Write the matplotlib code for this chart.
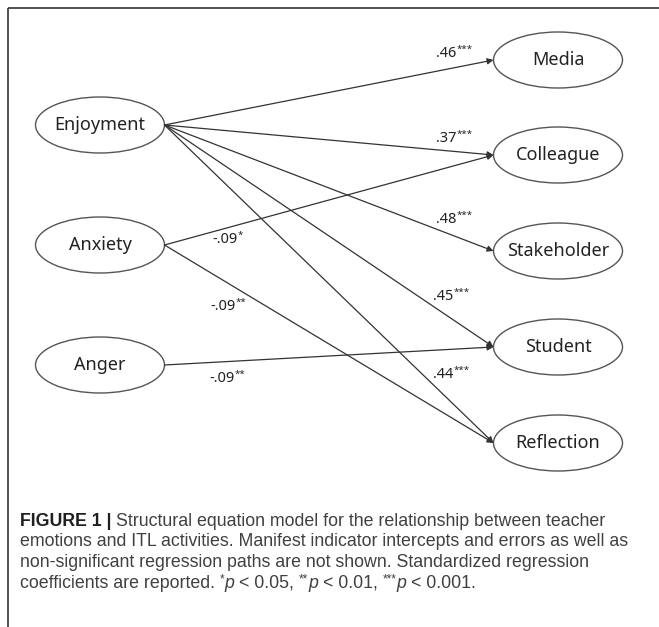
import matplotlib
matplotlib.use("Agg")
import matplotlib.pyplot as plt
from matplotlib.patches import Ellipse

# ---- data ----
predictors = ["Enjoyment", "Anxiety", "Anger"]
outcomes = ["Media", "Colleague", "Stakeholder", "Student", "Reflection"]
path_from = ["Enjoyment", "Enjoyment", "Enjoyment", "Enjoyment", "Enjoyment",
             "Anxiety", "Anxiety", "Anger"]
path_to = ["Media", "Colleague", "Stakeholder", "Student", "Reflection",
           "Colleague", "Reflection", "Student"]
path_coef = [".46", ".37", ".48", ".45", ".44", "-.09", "-.09", "-.09"]
path_stars = ["***", "***", "***", "***", "***", "*", "**", "**"]
caption_runs = [
    [("FIGURE 1 |", "b"), (" Structural equation model for the relationship between teacher", "n")],
    [("emotions and ITL activities. Manifest indicator intercepts and errors as well as", "n")],
    [("non-significant regression paths are not shown. Standardized regression", "n")],
    [("coefficients are reported. ", "n"), ("*", "s"), ("p", "i"), (" < 0.05, ", "n"),
     ("**", "s"), ("p", "i"), (" < 0.01, ", "n"), ("***", "s"), ("p", "i"), (" < 0.001.", "n")],
]

# ---- layout (pixels) ----
W, H = 659, 627
left_x, right_x = 100, 558
ell_w, ell_h = 129, 56
pred_y = {"Enjoyment": 125, "Anxiety": 245, "Anger": 365}
out_y = {"Media": 60, "Colleague": 155, "Stakeholder": 251, "Student": 347, "Reflection": 443}
label_pos = [(436, 57), (436, 142), (436, 223), (433, 300), (433, 378),
             (212, 243), (210, 310), (209, 382)]  # baselines

fig = plt.figure(figsize=(W / 100, H / 100), dpi=100)
ax = fig.add_axes([0, 0, 1, 1])
ax.set_xlim(0, W)
ax.set_ylim(H, 0)
ax.axis("off")
renderer = fig.canvas.get_renderer()


def text_width(t):
    return t.get_window_extent(renderer).width


def space_width(**kw):
    a = ax.text(0, 0, "x x", **kw)
    b = ax.text(0, 0, "xx", **kw)
    w = text_width(a) - text_width(b)
    a.remove(); b.remove()
    return w


def draw_runs(x, y, runs, base_kw, sup_kw, raise_px):
    for s, kind in runs:
        kw = dict(base_kw)
        yy = y
        if kind == "b":
            kw.update(weight="bold", color="#1f1f1f")
        elif kind == "i":
            kw.update(style="italic")
        elif kind == "s":
            kw = dict(sup_kw)
            yy = y - raise_px
        lead = len(s) - len(s.lstrip(" "))
        trail = len(s) - len(s.rstrip(" "))
        sw = space_width(**kw) if (lead or trail) else 0
        core = s.strip(" ")
        x += lead * sw
        t = ax.text(x, yy, core, ha="left", va="baseline", **kw)
        x += text_width(t) + trail * sw
    return x


# frame
ax.plot([8, W + 5], [8, 8], color="#333333", lw=1.2, solid_capstyle="butt")
ax.plot([8, 8], [8, H + 5], color="#333333", lw=1.2, solid_capstyle="butt")

node_font = dict(family=["Noto Sans", "DejaVu Sans"], fontsize=13, color="#222222")

for name in predictors:
    ax.add_patch(Ellipse((left_x, pred_y[name]), ell_w, ell_h, fill=False,
                         edgecolor="#555555", lw=1.0))
    ax.text(left_x, pred_y[name], name, ha="center", va="center", **node_font)
for name in outcomes:
    ax.add_patch(Ellipse((right_x, out_y[name]), ell_w, ell_h, fill=False,
                         edgecolor="#555555", lw=1.0))
    ax.text(right_x, out_y[name], name, ha="center", va="center", **node_font)

lab_kw = dict(family=["Noto Sans", "DejaVu Sans"], fontsize=10.5, color="#222222")
lab_sup = dict(family=["Noto Sans", "DejaVu Sans"], fontsize=7, color="#222222")

for src, dst, coef, st, (lx, ly) in zip(path_from, path_to, path_coef, path_stars, label_pos):
    x0, y0 = left_x + ell_w / 2, pred_y[src]
    x1, y1 = right_x - ell_w / 2, out_y[dst]
    ax.annotate("", xy=(x1, y1), xytext=(x0, y0),
                arrowprops=dict(arrowstyle="-|>", color="#333333", lw=0.9,
                                mutation_scale=9, shrinkA=0, shrinkB=0))
    draw_runs(lx, ly, [(coef, "n"), (st, "s")], lab_kw, lab_sup, 5)

cap_kw = dict(family=["Liberation Sans", "DejaVu Sans"], fontsize=12.8, color="#404040")
cap_sup = dict(family=["Liberation Sans", "DejaVu Sans"], fontsize=8.5, color="#404040")
cap_y = [526, 546.5, 567, 588]
for runs, y in zip(caption_runs, cap_y):
    draw_runs(20, y, runs, cap_kw, cap_sup, 6)

fig.savefig("out.png", dpi=100)
